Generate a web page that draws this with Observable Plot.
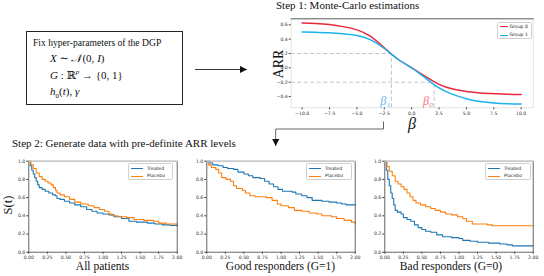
<!DOCTYPE html>
<html>
<head>
<meta charset="utf-8">
<script src="https://cdn.jsdelivr.net/npm/d3@7"></script>
<script src="https://cdn.jsdelivr.net/npm/@observablehq/plot@0.6"></script>
<style>
  html, body { margin: 0; padding: 0; background: #fff; }
  #root { position: relative; width: 544px; height: 276px; overflow: hidden; background: #fff; }
  .abs { position: absolute; white-space: nowrap; }
  .serif { font-family: "Liberation Serif", "DejaVu Serif", serif; color: #111; }
  .legend { position: absolute; border: 0.8px solid #d0d0d0; border-radius: 1.5px; background: #fff;
            font-family: "DejaVu Sans", sans-serif; font-size: 4.6px; color: #222; box-sizing: border-box; }
  .legend .row { position: absolute; left: 0; right: 0; height: 6px; }
  .legend .sw { position: absolute; height: 1.2px; }
  .legend .lab { position: absolute; line-height: 6px; top: 0; }
</style>
</head>
<body>
<div id="root"></div>
<script>
// ---------- Step 1: Monte-Carlo estimations (ARR vs beta) ----------
const betaGrid   = [-10, -8.75, -7.5, -6.25, -5, -3.75, -2.5, -1.25, 0, 1.25, 2.5, 3.75, 5, 6.25, 7.5, 8.75, 10];
const arrGroup0  = [0.625, 0.62, 0.605, 0.575, 0.53, 0.44, 0.28, 0.12, 0.0, -0.12, -0.23, -0.295, -0.33, -0.35, -0.36, -0.368, -0.372];
const arrGroup1  = [0.50, 0.495, 0.49, 0.475, 0.45, 0.39, 0.27, 0.12, 0.0, -0.14, -0.28, -0.37, -0.43, -0.47, -0.49, -0.50, -0.505];
const betaTicks  = [-10, -7.5, -5, -2.5, 0, 2.5, 5, 7.5, 10];
const arrTicks   = [0.6, 0.4, 0.2, 0.0, -0.2, -0.4];
const arrLevels  = [0.2, -0.2];
const betaLevels = [-1.85, 2.05]; // beta_1 (group 1 level 0.2), beta_0 (group 0 level -0.2)
const groupNames = ["Group 0", "Group 1"];

// ---------- Step 2: Kaplan-Meier curves ----------
const allTreatedT  = [0,0.02,0.04,0.06,0.08,0.10,0.12,0.14,0.18,0.22,0.27,0.32,0.36,0.38,0.42,0.48,0.55,0.62,0.70,0.78,0.85,0.92,1.0,1.08,1.15,1.25,1.35,1.45,1.6,1.7,1.8,1.9,2.0];
const allTreatedS  = [1.0,0.95,0.90,0.86,0.82,0.78,0.74,0.71,0.69,0.67,0.65,0.63,0.62,0.59,0.58,0.56,0.54,0.52,0.50,0.47,0.45,0.43,0.42,0.41,0.39,0.37,0.34,0.33,0.32,0.31,0.30,0.295,0.29];
const allPlaceboT  = [0,0.03,0.06,0.10,0.14,0.18,0.22,0.26,0.30,0.33,0.36,0.38,0.42,0.48,0.55,0.62,0.70,0.80,0.88,0.95,1.02,1.08,1.12,1.2,1.32,1.42,1.55,1.68,1.75,1.85,2.0];
const allPlaceboS  = [1.0,0.96,0.92,0.87,0.83,0.80,0.78,0.76,0.74,0.71,0.68,0.65,0.63,0.61,0.58,0.55,0.53,0.51,0.49,0.47,0.45,0.42,0.40,0.39,0.38,0.36,0.35,0.34,0.32,0.31,0.30];

const goodTreatedT = [0,0.04,0.08,0.15,0.22,0.28,0.36,0.42,0.5,0.56,0.62,0.72,0.78,0.84,0.9,0.96,1.02,1.15,1.2,1.28,1.35,1.42,1.55,1.65,1.75,1.82,1.88,2.0];
const goodTreatedS = [1.0,0.98,0.96,0.95,0.93,0.92,0.91,0.88,0.86,0.84,0.82,0.81,0.78,0.75,0.72,0.69,0.67,0.66,0.64,0.62,0.60,0.57,0.56,0.55,0.54,0.53,0.52,0.515];
const goodPlaceboT = [0,0.02,0.06,0.12,0.16,0.2,0.26,0.32,0.36,0.4,0.48,0.52,0.58,0.65,0.8,0.88,0.95,1.0,1.1,1.18,1.28,1.38,1.48,1.55,1.68,1.75,1.85,1.95,2.0];
const goodPlaceboS = [1.0,0.96,0.93,0.91,0.87,0.82,0.80,0.78,0.73,0.70,0.68,0.65,0.62,0.61,0.60,0.57,0.53,0.51,0.49,0.46,0.45,0.43,0.42,0.40,0.39,0.37,0.35,0.33,0.31];

const badTreatedT  = [0,0.02,0.04,0.06,0.08,0.10,0.12,0.14,0.17,0.22,0.25,0.3,0.35,0.4,0.45,0.5,0.55,0.62,0.7,0.78,0.9,1.0,1.05,1.15,1.25,1.4,1.55,1.65,1.72,2.0];
const badTreatedS  = [1.0,0.90,0.80,0.73,0.65,0.59,0.52,0.46,0.44,0.42,0.38,0.36,0.34,0.30,0.27,0.25,0.23,0.22,0.19,0.17,0.16,0.15,0.13,0.12,0.11,0.10,0.09,0.08,0.07,0.07];
const badPlaceboT  = [0,0.03,0.06,0.1,0.14,0.18,0.22,0.26,0.3,0.34,0.38,0.42,0.48,0.55,0.62,0.68,0.75,0.82,0.9,0.98,1.05,1.1,1.18,1.38,1.45,2.0];
const badPlaceboS  = [1.0,0.94,0.89,0.84,0.78,0.75,0.72,0.69,0.65,0.61,0.57,0.54,0.52,0.50,0.48,0.46,0.44,0.42,0.41,0.39,0.37,0.34,0.31,0.30,0.29,0.29];

const timeTicks  = [0, 0.25, 0.5, 0.75, 1.0, 1.25, 1.5, 1.75, 2.0];
const survTicks  = [0, 0.2, 0.4, 0.6, 0.8, 1.0];
const armNames   = ["Treated", "Placebo"];
const panelNames = ["All patients", "Good responders (G=1)", "Bad responders (G=0)"];

// ---------- colours ----------
const cGroup0 = "#e8283a", cGroup1 = "#1ab2ef";
const cBeta0 = "#f4737f", cBeta1 = "#62b8f5";
const cTreated = "#1f77b4", cPlacebo = "#ff7f0e";

const root = document.getElementById("root");
function place(el, left, top) { el.style.position = "absolute"; el.style.left = left + "px"; el.style.top = top + "px"; root.appendChild(el); return el; }
function html(s, cls, left, top, extra) {
  const d = document.createElement("div"); d.className = "abs " + (cls || ""); d.innerHTML = s;
  d.style.left = left + "px"; d.style.top = top + "px"; if (extra) Object.assign(d.style, extra);
  root.appendChild(d); return d;
}
const zip = (xs, ys) => xs.map((x, i) => ({x, y: ys[i]}));
const baseStyle = {fontFamily: "DejaVu Sans, sans-serif", fontSize: "4.6px", color: "#333", background: "transparent", overflow: "visible"};

// ---------- left box ----------
const box = document.createElement("div");
Object.assign(box.style, {position: "absolute", left: "26px", top: "31px", width: "157px", height: "74px", border: "1.3px solid #222", boxSizing: "border-box"});
root.appendChild(box);
html("Fix hyper-parameters of the DGP", "serif", 33, 37, {fontSize: "9.6px"});
html("<i>X</i> ∼ <i>𝒩</i>(0, <i>I</i>)", "serif", 50, 52, {fontSize: "11px"});
html("<i>G</i> : ℝ<sup style='font-size:7px'><i>p</i></sup> → {0, 1}", "serif", 50, 68, {fontSize: "11px"});
html("<i>h</i><sub style='font-size:7px'>0</sub>(<i>t</i>), <i>γ</i>", "serif", 50, 85, {fontSize: "11px"});

// ---------- Step 1 chart ----------
const xMin1 = -11, xMax1 = 11.1, yMin1 = -0.557, yMax1 = 0.684;
const arrData = [
  ...zip(betaGrid, arrGroup0).map(d => ({...d, g: groupNames[0]})),
  ...zip(betaGrid, arrGroup1).map(d => ({...d, g: groupNames[1]}))
];
const top1 = Plot.plot({
  width: 282, height: 135,
  marginLeft: 28.7, marginRight: 11.3, marginTop: 18.3, marginBottom: 27.7,
  style: baseStyle,
  x: {domain: [xMin1, xMax1]},
  y: {domain: [yMin1, yMax1]},
  marks: [
    Plot.frame({stroke: "#dcdcdc", strokeWidth: 0.8}),
    Plot.axisX({ticks: betaTicks, tickFormat: d3.format(".1f"), tickSize: 2, tickPadding: 1.5, label: null, stroke: "#444"}),
    Plot.axisY({ticks: arrTicks, tickFormat: d3.format(".1f"), tickSize: 2, tickPadding: 1.5, label: null, stroke: "#444"}),
    Plot.ruleY([arrLevels[0]], {x1: xMin1, x2: betaLevels[0], stroke: "#bbb", strokeDasharray: "4,2.5", strokeWidth: 0.9}),
    Plot.ruleY([arrLevels[1]], {x1: xMin1, x2: betaLevels[1], stroke: "#bbb", strokeDasharray: "4,2.5", strokeWidth: 0.9}),
    Plot.ruleX([betaLevels[0]], {y1: yMin1, y2: arrLevels[0], stroke: "#bbb", strokeDasharray: "4,2.5", strokeWidth: 0.9}),
    Plot.ruleX([betaLevels[1]], {y1: yMin1, y2: arrLevels[1], stroke: "#bbb", strokeDasharray: "4,2.5", strokeWidth: 0.9}),
    Plot.line(arrData, {x: "x", y: "y", z: "g", stroke: d => d.g === groupNames[0] ? cGroup0 : cGroup1, curve: "natural", strokeWidth: 1.5}),
    Plot.text([betaLevels[0]], {x: d => d, frameAnchor: "bottom", dy: -3, dx: -1, text: () => "β₁", textAnchor: "end", lineAnchor: "bottom", fill: cBeta1, fontSize: 12, fontFamily: "Liberation Serif, serif", fontStyle: "italic"}),
    Plot.text([betaLevels[1]], {x: d => d, frameAnchor: "bottom", dy: -3, dx: -1, text: () => "β₀", textAnchor: "end", lineAnchor: "bottom", fill: cBeta0, fontSize: 12, fontFamily: "Liberation Serif, serif", fontStyle: "italic"}),
    Plot.frame({anchor: "top", stroke: "#666", strokeWidth: 1})
  ]
});
place(top1, 262, 0);
html("Step 1: Monte-Carlo estimations", "serif", 276, -1, {fontSize: "11px"});
html("ARR", "serif", 279, 64, {fontSize: "14px", transform: "translate(-50%,-50%) rotate(-90deg)", transformOrigin: "center", lineHeight: "14px"});
html("<i>β</i>", "serif", 408, 116, {fontSize: "16px", lineHeight: "16px"});

function legend(left, top, w, h, items, rowTops) {
  const L = document.createElement("div"); L.className = "legend";
  Object.assign(L.style, {left: left + "px", top: top + "px", width: w + "px", height: h + "px"});
  items.forEach((it, i) => {
    const r = document.createElement("div"); r.className = "row"; r.style.top = rowTops[i] + "px";
    const s = document.createElement("div"); s.className = "sw"; Object.assign(s.style, {left: it.sx + "px", width: it.sw + "px", top: "2.6px", background: it.color});
    const t = document.createElement("div"); t.className = "lab"; t.style.left = it.tx + "px"; t.textContent = it.label;
    r.appendChild(s); r.appendChild(t); L.appendChild(r);
  });
  root.appendChild(L);
}
legend(497, 21.5, 35, 17.5, [
  {label: groupNames[0], color: cGroup0, sx: 2, sw: 8, tx: 11.5},
  {label: groupNames[1], color: cGroup1, sx: 2, sw: 8, tx: 11.5}
], [1, 9.5]);

// ---------- Step 2 panels ----------
function km(tT, tS, pT, pS) {
  const data = [...zip(tT, tS).map(d => ({...d, arm: armNames[0]})), ...zip(pT, pS).map(d => ({...d, arm: armNames[1]}))];
  return Plot.plot({
    width: 190, height: 115,
    marginLeft: 28.3, marginRight: 13.3, marginTop: 10.7, marginBottom: 13.3,
    style: baseStyle,
    x: {domain: [0, 2]},
    y: {domain: [0, 1]},
    marks: [
      Plot.axisX({ticks: timeTicks, tickFormat: d3.format(".2f"), tickSize: 2, tickPadding: 1.2, label: null, stroke: "#333"}),
      Plot.axisY({ticks: survTicks, tickFormat: d3.format(".1f"), tickSize: 2, tickPadding: 1.5, label: null, stroke: "#333"}),
      Plot.line(data, {x: "x", y: "y", z: "arm", stroke: d => d.arm === armNames[0] ? cTreated : cPlacebo, curve: "step-after", strokeWidth: 1.1}),
      Plot.frame({stroke: "#555", strokeWidth: 0.9}),
      Plot.frame({anchor: "top", stroke: "#e2e2e2", strokeWidth: 1})
    ]
  });
}
const panelLefts = [0, 178, 356];
place(km(allTreatedT, allTreatedS, allPlaceboT, allPlaceboS), panelLefts[0], 150);
place(km(goodTreatedT, goodTreatedS, goodPlaceboT, goodPlaceboS), panelLefts[1], 150);
place(km(badTreatedT, badTreatedS, badPlaceboT, badPlaceboS), panelLefts[2], 150);

const kmLegendItems = [
  {label: armNames[0], color: cTreated, sx: 2, sw: 12, tx: 18},
  {label: armNames[1], color: cPlacebo, sx: 2, sw: 12, tx: 18}
];
legend(128, 162.5, 45, 17.5, kmLegendItems, [2, 9.5]);
legend(306, 162.5, 46, 17.5, kmLegendItems, [2, 9.5]);
legend(485, 162.5, 46, 17.5, kmLegendItems, [2, 9.5]);

const labelCenters = [102.5, 280.5, 451];
panelNames.forEach((n, i) => html(n, "serif", labelCenters[i], 260, {fontSize: "11.5px", transform: "translateX(-50%)"}));
html("S(t)", "serif", 8, 205, {fontSize: "12.5px", transform: "translate(-50%,-50%) rotate(-90deg)", lineHeight: "13px"});
html("Step 2: Generate data with pre-definite ARR levels", "serif", 12, 137, {fontSize: "11px"});

// ---------- connectors ----------
const ns = "http://www.w3.org/2000/svg";
const svg = document.createElementNS(ns, "svg");
svg.setAttribute("width", 544); svg.setAttribute("height", 276);
Object.assign(svg.style, {position: "absolute", left: 0, top: 0, pointerEvents: "none"});
svg.innerHTML = `
  <defs><marker id="ah" viewBox="0 0 10 10" refX="10" refY="5" markerWidth="7" markerHeight="7" markerUnits="userSpaceOnUse" orient="auto">
    <path d="M0,0 L10,5 L0,10 z" fill="#111"/></marker></defs>
  <path d="M195,69.5 L247,69.5" stroke="#222" stroke-width="0.9" fill="none" marker-end="url(#ah)"/>
  <path d="M383.5,121.5 L383.5,129 L275.7,129 L275.7,146" stroke="#555" stroke-width="0.9" fill="none" marker-end="url(#ah)"/>`;
root.appendChild(svg);
</script>
</body>
</html>
